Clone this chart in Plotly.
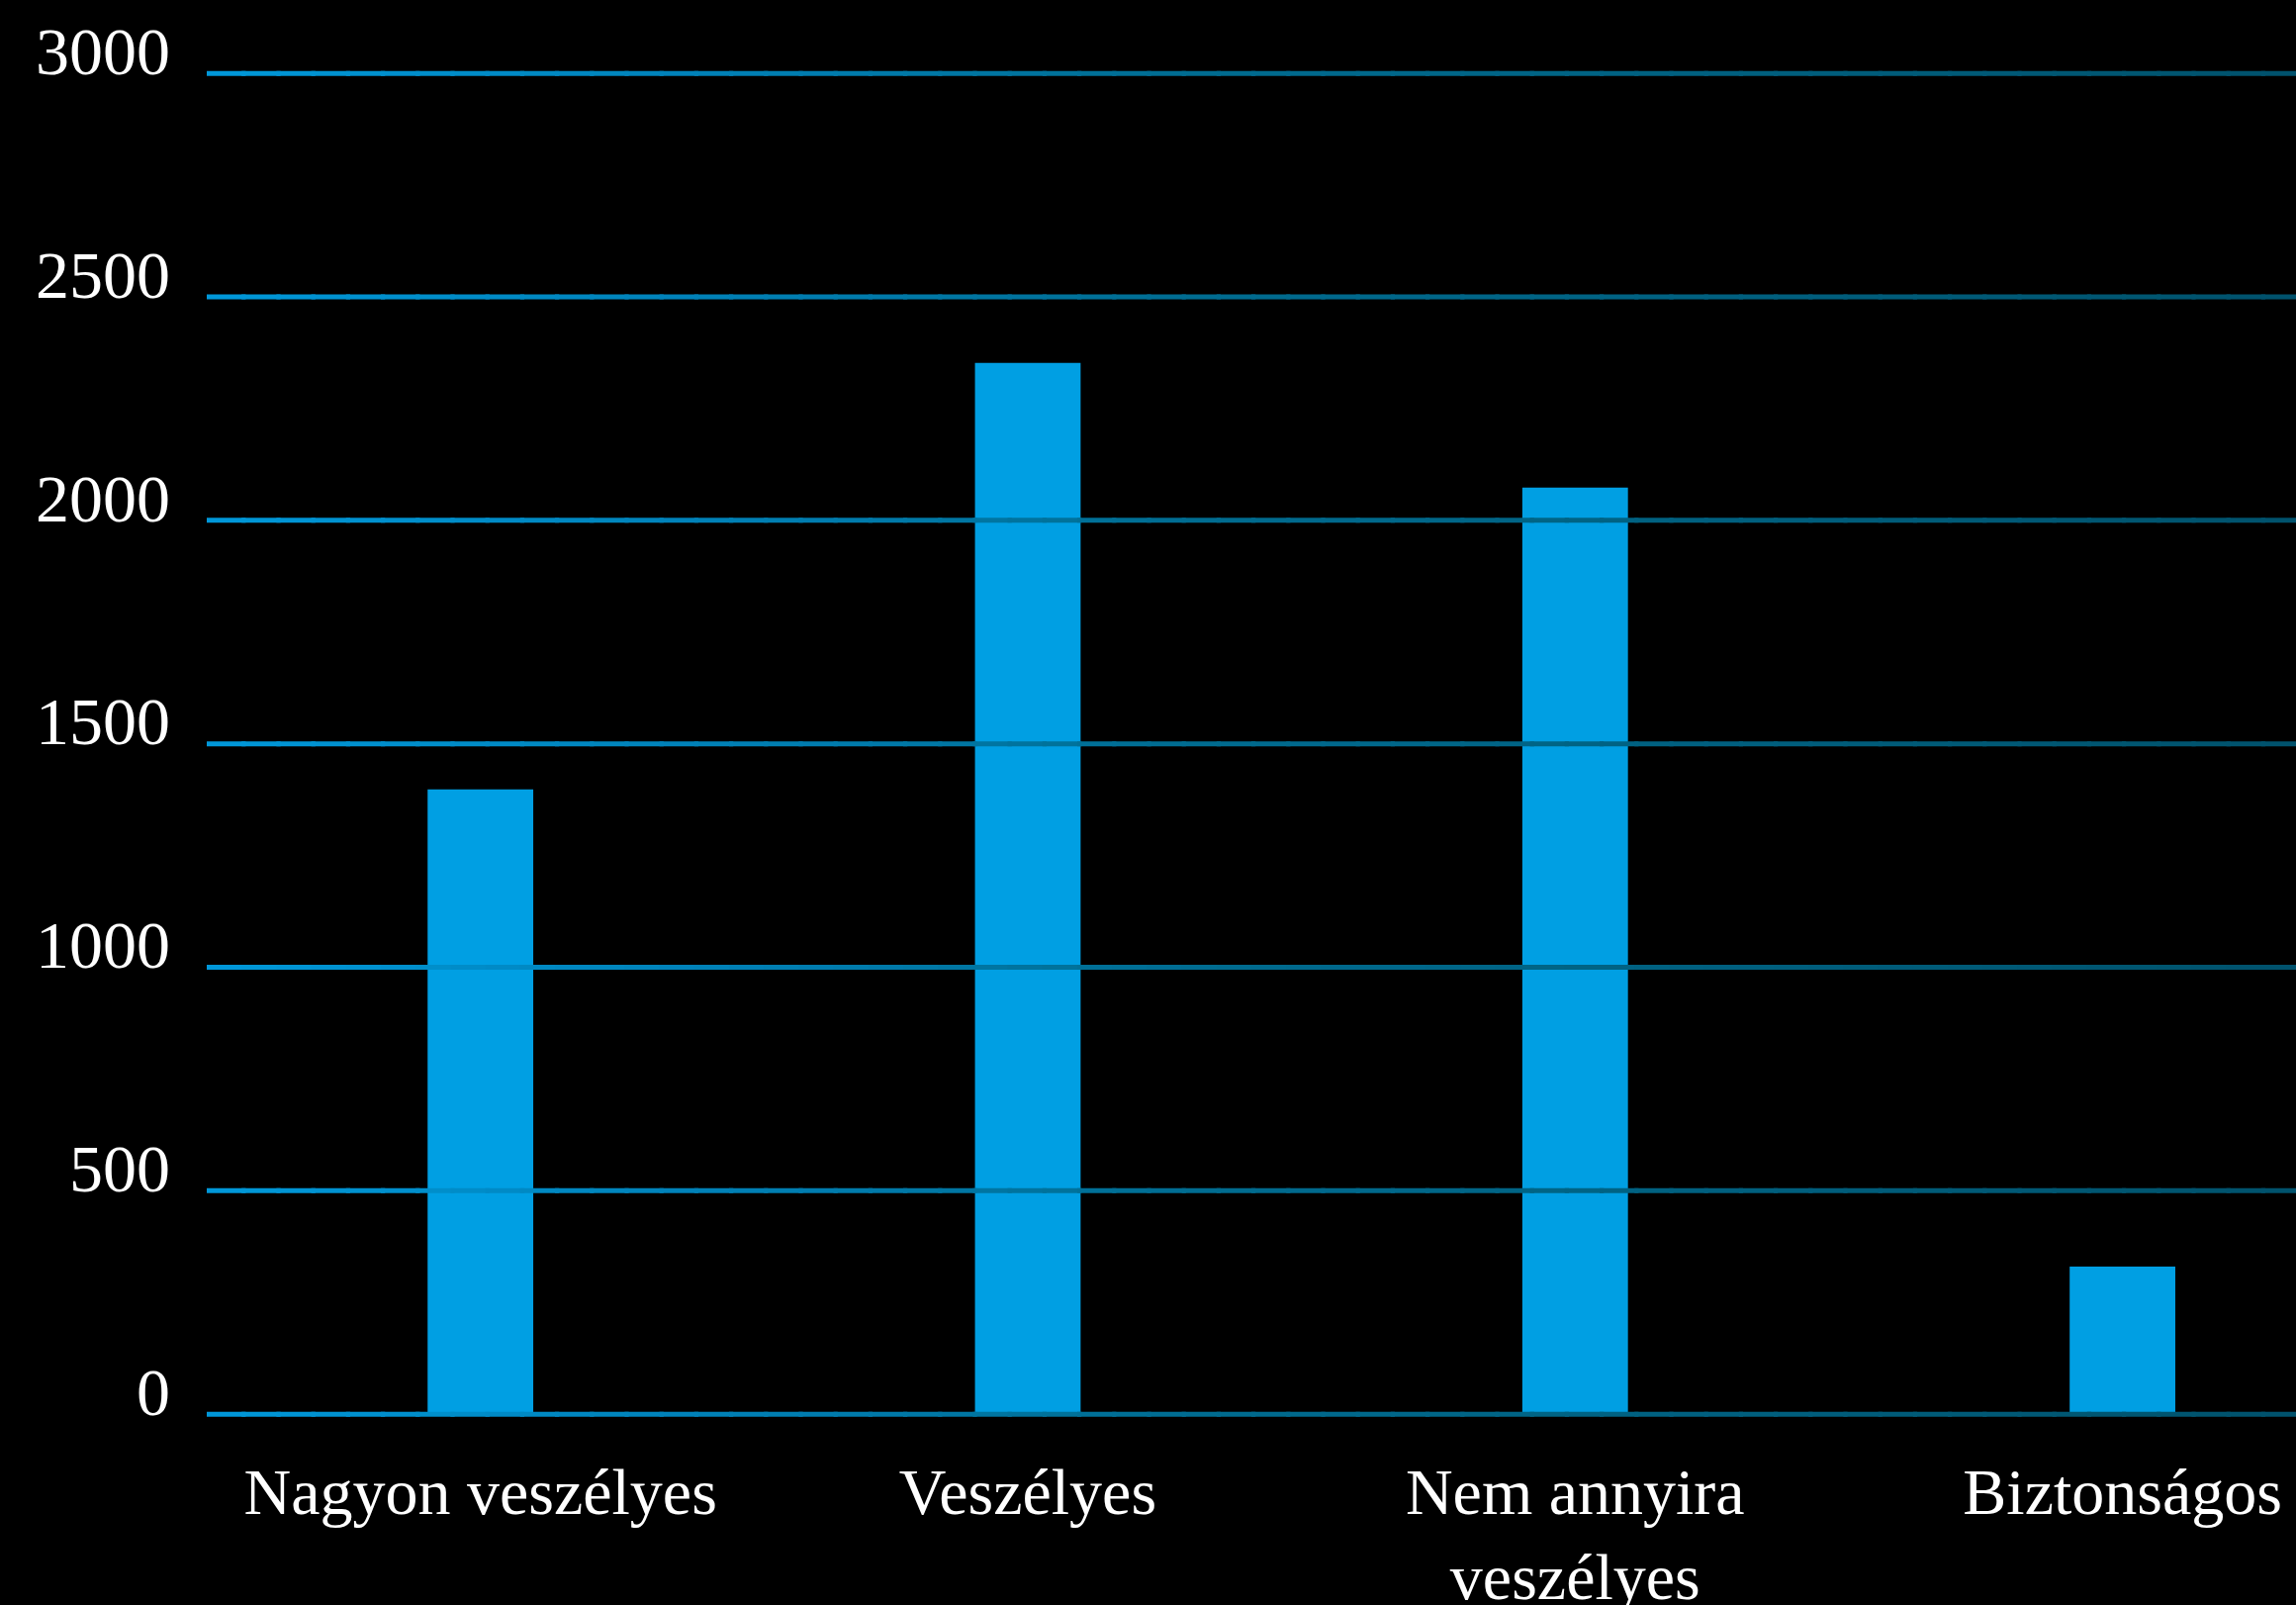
import plotly.graph_objects as go

# ---- data ----
categories = ["Nagyon veszélyes", "Veszélyes", "Nem annyira<br>veszélyes", "Biztonságos"]
values = [1398, 2352, 2073, 330]
y_tickvals = [0, 500, 1000, 1500, 2000, 2500, 3000]
y_ticktext = ["0", "500", "1000", "1500", "2000", "2500", "3000"]

BAR_COLOR = "#009fe3"
FONT = "Liberation Serif, Times New Roman, serif"

fig = go.Figure()
fig.add_trace(go.Bar(
    x=categories, y=values,
    marker=dict(color=BAR_COLOR, line=dict(width=0)),
    width=0.193,
    hoverinfo="skip",
))

# gradient gridlines (style only): colour stops along the paper x axis
stops = [(0.0, (0, 152, 218)), (0.23, (0, 130, 185)), (0.47, (0, 108, 145)), (1.0, (0, 82, 108))]


def color_at(t):
    for (t0, c0), (t1, c1) in zip(stops[:-1], stops[1:]):
        if t0 <= t <= t1:
            f = (t - t0) / (t1 - t0) if t1 > t0 else 0
            return "rgb(%d,%d,%d)" % tuple(round(a + (b - a) * f) for a, b in zip(c0, c1))
    return "rgb(%d,%d,%d)" % stops[-1][1]


N = 60
for yv in y_tickvals:
    for i in range(N):
        x0 = i / N
        x1 = (i + 1) / N + 0.002
        fig.add_shape(type="line", xref="paper", yref="y",
                      x0=x0, x1=min(x1, 1.0), y0=yv, y1=yv,
                      line=dict(color=color_at((x0 + x1) / 2), width=5),
                      layer="above")

fig.update_layout(
    width=2321, height=1622,
    paper_bgcolor="black", plot_bgcolor="black",
    margin=dict(l=209, r=0, t=29, b=168, autoexpand=False),
    showlegend=False,
    bargap=0.807,
    font=dict(family=FONT, color="white", size=68),
)
fig.update_xaxes(
    range=[-0.5, 3.317],
    showgrid=False, zeroline=False, showline=False,
    tickfont=dict(family=FONT, size=66, color="white"),
    ticklabelstandoff=9,
    automargin=False,
)
fig.update_yaxes(
    range=[-55, 3100],
    tickvals=y_tickvals, ticktext=y_ticktext,
    showgrid=False, zeroline=False, showline=False,
    tickfont=dict(family=FONT, size=68, color="white"),
    ticklabelstandoff=36,
    ticklabelshift=-23,
    automargin=False,
)

fig.write_html(
    "out.html",
    config={"displayModeBar": False},
    post_script="document.body.style.margin='0';document.body.style.overflow='hidden';",
)
